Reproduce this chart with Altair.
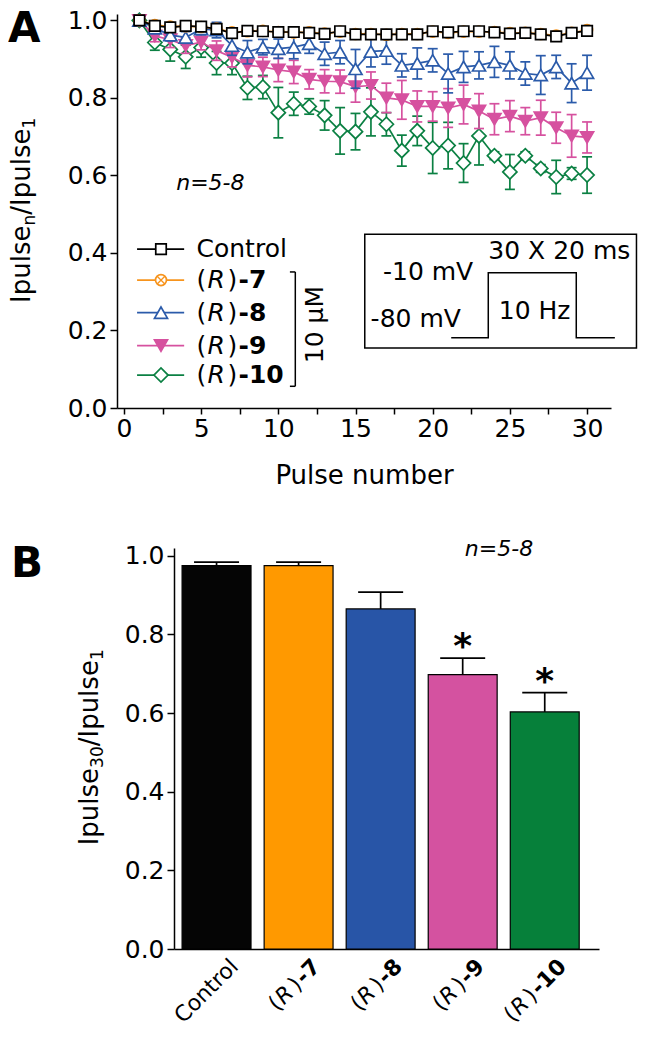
import altair as alt
import pandas as pd

FONT = "DejaVu Sans"

# ---------------- Panel A data ----------------
pulses = list(range(1, 31))

control = [1.000, 0.986, 0.982, 0.986, 0.984, 0.978, 0.967, 0.973, 0.972, 0.970,
           0.970, 0.968, 0.965, 0.972, 0.964, 0.964, 0.964, 0.964, 0.964, 0.972,
           0.969, 0.972, 0.972, 0.969, 0.966, 0.968, 0.964, 0.959, 0.968, 0.973]
control_se = [0.000, 0.006, 0.006, 0.005, 0.006, 0.006, 0.006, 0.006, 0.007, 0.006,
              0.006, 0.007, 0.006, 0.006, 0.007, 0.006, 0.006, 0.006, 0.007, 0.006,
              0.007, 0.006, 0.007, 0.006, 0.006, 0.007, 0.006, 0.007, 0.006, 0.007]

r7 = [1.000, 0.988, 0.984, 0.985, 0.983, 0.979, 0.969, 0.972, 0.973, 0.970,
      0.969, 0.969, 0.966, 0.971, 0.965, 0.965, 0.963, 0.965, 0.965, 0.971,
      0.968, 0.971, 0.971, 0.970, 0.967, 0.968, 0.965, 0.961, 0.968, 0.975]
r7_se = [0.000, 0.007, 0.007, 0.006, 0.007, 0.007, 0.007, 0.007, 0.007, 0.007,
         0.007, 0.007, 0.007, 0.007, 0.007, 0.007, 0.007, 0.007, 0.007, 0.007,
         0.007, 0.007, 0.007, 0.007, 0.007, 0.007, 0.007, 0.007, 0.007, 0.008]

r8 = [1.000, 0.980, 0.962, 0.956, 0.978, 0.975, 0.935, 0.918, 0.931, 0.927,
      0.931, 0.940, 0.914, 0.918, 0.875, 0.920, 0.922, 0.884, 0.889, 0.897,
      0.863, 0.880, 0.884, 0.893, 0.884, 0.863, 0.859, 0.880, 0.838, 0.865]
r8_se = [0.000, 0.010, 0.015, 0.015, 0.015, 0.020, 0.025, 0.030, 0.020, 0.025,
         0.030, 0.025, 0.030, 0.030, 0.050, 0.040, 0.035, 0.030, 0.040, 0.030,
         0.050, 0.040, 0.035, 0.040, 0.035, 0.030, 0.050, 0.030, 0.050, 0.045]

r9 = [1.000, 0.960, 0.950, 0.935, 0.944, 0.922, 0.905, 0.884, 0.880, 0.872,
      0.867, 0.848, 0.843, 0.842, 0.829, 0.832, 0.800, 0.795, 0.778, 0.778,
      0.774, 0.783, 0.766, 0.745, 0.753, 0.740, 0.749, 0.723, 0.702, 0.698]
r9_se = [0.000, 0.015, 0.020, 0.020, 0.020, 0.025, 0.025, 0.030, 0.025, 0.030,
         0.030, 0.025, 0.030, 0.030, 0.040, 0.035, 0.038, 0.050, 0.040, 0.038,
         0.050, 0.050, 0.045, 0.040, 0.040, 0.035, 0.045, 0.040, 0.055, 0.040]

r10 = [1.000, 0.943, 0.925, 0.906, 0.930, 0.890, 0.890, 0.826, 0.828, 0.762,
       0.785, 0.778, 0.755, 0.715, 0.713, 0.764, 0.732, 0.664, 0.715, 0.671,
       0.677, 0.632, 0.702, 0.651, 0.609, 0.651, 0.618, 0.596, 0.605, 0.601]
r10_se = [0.000, 0.020, 0.030, 0.030, 0.025, 0.030, 0.030, 0.030, 0.030, 0.065,
          0.030, 0.020, 0.038, 0.060, 0.047, 0.062, 0.030, 0.040, 0.038, 0.066,
          0.060, 0.050, 0.075, 0.010, 0.045, 0.010, 0.010, 0.043, 0.015, 0.047]

series_names = ["Control", "(R)-7", "(R)-8", "(R)-9", "(R)-10"]
series_values = [control, r7, r8, r9, r10]
series_errors = [control_se, r7_se, r8_se, r9_se, r10_se]
legend_numbers = ["", "-7", "-8", "-9", "-10"]

# ---------------- Panel B data ----------------
bar_categories = ["Control", "(R)-7", "(R)-8", "(R)-9", "(R)-10"]
bar_values = [0.975, 0.975, 0.865, 0.698, 0.603]
bar_errors = [0.009, 0.009, 0.043, 0.042, 0.049]
bar_marks = ["", "", "", "*", "*"]

# ---------------- styles ----------------
line_colors = ["#000000", "#F7941D", "#2B5BAA", "#D6519F", "#0B8043"]
bar_colors = ["#050505", "#FF9900", "#2855A7", "#D452A0", "#06803A"]
marker_shapes = ["square", "circle", "triangle-up", "triangle-down", "diamond"]
marker_filled = [False, False, False, True, False]
marker_sizes = [110, 120, 170, 170, 200]
X_PATH = "M-0.7,-0.7L0.7,0.7M0.7,-0.7L-0.7,0.7"
LW = 1.7
FS = 25

# ---------------- Panel A scales ----------------
xa_scale = alt.Scale(domain=[-0.45, 31.55], nice=False, zero=False)
ya_scale = alt.Scale(domain=[0, 1.0165], nice=False, zero=False)
xa_axis = alt.Axis(title="Pulse number", values=[i * 2.5 for i in range(13)],
                   labelExpr="datum.value % 5 == 0 ? datum.label : ''",
                   labelFontSize=FS, titleFontSize=26, titleFontWeight="normal",
                   tickSize=6, tickWidth=1.5, domainWidth=1.5, labelPadding=2,
                   titlePadding=21, grid=False, labelOverlap=False, labelFlush=False)
ya_axis = alt.Axis(title=None, values=[0, 0.2, 0.4, 0.6, 0.8, 1.0], format=".1f",
                   labelFontSize=FS, tickSize=7, tickWidth=1.5, domainWidth=1.5,
                   labelPadding=3, grid=False)


def XA(field=None, datum=None):
    if datum is not None:
        return alt.X(datum=datum, type="quantitative", scale=xa_scale, axis=xa_axis)
    return alt.X(field, type="quantitative", scale=xa_scale, axis=xa_axis)


def YA(field=None, datum=None):
    if datum is not None:
        return alt.Y(datum=datum, type="quantitative", scale=ya_scale, axis=ya_axis)
    return alt.Y(field, type="quantitative", scale=ya_scale, axis=ya_axis)


one = pd.DataFrame({"k": [0]})

layersA = []
for idx in [4, 3, 2, 1, 0]:
    vals = series_values[idx]
    ses = series_errors[idx]
    col = line_colors[idx]
    df = pd.DataFrame({"pulse": pulses, "value": vals,
                       "lo": [v - s for v, s in zip(vals, ses)],
                       "hi": [v + s for v, s in zip(vals, ses)]})
    base = alt.Chart(df)
    layersA.append(base.mark_rule(color=col, strokeWidth=LW).encode(
        x=XA("pulse"), y=YA("lo"), y2="hi"))
    for f in ["lo", "hi"]:
        layersA.append(base.mark_tick(color=col, orient="horizontal", size=10,
                                      thickness=LW, opacity=1).encode(x=XA("pulse"), y=YA(f)))
    layersA.append(base.mark_line(color=col, strokeWidth=LW).encode(
        x=XA("pulse"), y=YA("value")))
    layersA.append(base.mark_point(shape=marker_shapes[idx], size=marker_sizes[idx],
                                   filled=True, fill=col if marker_filled[idx] else "white",
                                   stroke=col, strokeWidth=LW, opacity=1).encode(
        x=XA("pulse"), y=YA("value")))
    if idx == 1:
        layersA.append(base.mark_point(shape=X_PATH, size=marker_sizes[idx], filled=False,
                                       stroke=col, strokeWidth=1.3, opacity=1).encode(
            x=XA("pulse"), y=YA("value")))

# ---------------- Legend (inside A) ----------------
legend_rows = [0.41, 0.33, 0.246, 0.161, 0.085]
LEG_X0, LEG_X1, LEG_M, LEG_T = 0.85, 3.9, 2.4, 4.7
for idx, name in enumerate(series_names):
    col = line_colors[idx]
    ld = pd.DataFrame({"v": [legend_rows[idx]]})
    b = alt.Chart(ld)
    layersA.append(b.mark_rule(color=col, strokeWidth=LW).encode(
        x=XA(datum=LEG_X0), x2=alt.X2(datum=LEG_X1), y=YA("v")))
    layersA.append(b.mark_point(shape=marker_shapes[idx], size=marker_sizes[idx], filled=True,
                                fill=col if marker_filled[idx] else "white", stroke=col,
                                strokeWidth=LW, opacity=1).encode(x=XA(datum=LEG_M), y=YA("v")))
    if idx == 1:
        layersA.append(b.mark_point(shape=X_PATH, size=marker_sizes[idx], filled=False,
                                    stroke=col, strokeWidth=1.3, opacity=1).encode(
            x=XA(datum=LEG_M), y=YA("v")))

leg_df = pd.DataFrame({"name": series_names, "v": legend_rows, "num": legend_numbers})
lb = alt.Chart(leg_df)
txt_kw = dict(align="left", baseline="middle", fontSize=FS, color="black")
layersA.append(lb.transform_filter("datum.name == 'Control'").mark_text(**txt_kw).encode(
    x=XA(datum=LEG_T), y=YA("v"), text="name:N"))
rl = lb.transform_filter("datum.name != 'Control'")
R_PIECES = [("(", {}, 0), ("R", {"fontStyle": "italic"}, 11), (")", {}, 31), (None, {"fontWeight": "bold"}, 42)]
for t, kw, pos in R_PIECES:
    layersA.append(rl.mark_text(dx=pos, **kw, **txt_kw).encode(
        x=XA(datum=LEG_T), y=YA("v"), text=(alt.value(t) if t else "num:N")))

# bracket + 10 uM
ob = alt.Chart(one)
layersA.append(ob.mark_rule(color="black", strokeWidth=1.5).encode(
    x=XA(datum=11.1), y=YA(datum=0.056), y2=alt.Y2(datum=0.351)))
for yy in [0.056, 0.351]:
    layersA.append(ob.mark_rule(color="black", strokeWidth=1.5).encode(
        x=XA(datum=10.75), x2=alt.X2(datum=11.1), y=YA(datum=yy)))
layersA.append(ob.mark_text(angle=270, align="center", baseline="middle", fontSize=FS).encode(
    x=XA(datum=12.4), y=YA(datum=0.215), text=alt.value("10 \u03bcM")))

# n=5-8
layersA.append(ob.mark_text(fontStyle="italic", fontSize=22, align="center", baseline="middle").encode(
    x=XA(datum=5.6), y=YA(datum=0.58), text=alt.value("n=5-8")))

# inset protocol
layersA.append(ob.mark_rect(fill="white", stroke="black", strokeWidth=1.5).encode(
    x=XA(datum=15.6), x2=alt.X2(datum=33.2), y=YA(datum=0.155), y2=alt.Y2(datum=0.448)))
wave_x = [21.2, 23.6, 23.6, 29.3, 29.3, 31.8]
wave_y = [0.181, 0.181, 0.349, 0.349, 0.181, 0.181]
wdf = pd.DataFrame({"x": wave_x, "y": wave_y, "i": list(range(len(wave_x)))})
layersA.append(alt.Chart(wdf).mark_line(color="black", strokeWidth=1.5).encode(
    x=XA("x"), y=YA("y"), order="i:Q"))
for t, xx, yy in [("30 X 20 ms", 28.2, 0.406), ("-10 mV", 19.7, 0.351),
                  ("-80 mV", 18.9, 0.229), ("10 Hz", 26.6, 0.25)]:
    layersA.append(ob.mark_text(fontSize=FS, align="center", baseline="middle").encode(
        x=XA(datum=xx), y=YA(datum=yy), text=alt.value(t)))

# panel letter
layersA.append(ob.mark_text(fontSize=42, fontWeight="bold", align="left", baseline="alphabetic").encode(
    x=alt.value(-109), y=alt.value(28), text=alt.value("A")))


def ytitle_layers(base, xpix, ymid, sub1, yfun):
    out = []
    f, fs = 26, 17
    w_main = 2.978 * f
    w_sub1 = 0.636 * fs * len(sub1) if sub1 != "n" else 0.634 * fs
    w_slash = 3.315 * f
    w_sub2 = 0.636 * fs
    L = w_main + w_sub1 + w_slash + w_sub2
    pos = -L / 2
    for t, size, dy, w in [("Ipulse", f, 0, w_main), (sub1, fs, 8, w_sub1),
                           ("/Ipulse", f, 0, w_slash), ("1", fs, 8, w_sub2)]:
        out.append(base.mark_text(angle=270, align="left", baseline="middle", fontSize=size,
                                  dx=pos, dy=dy).encode(
            x=alt.value(xpix), y=yfun(ymid), text=alt.value(t)))
        pos += w
    return out


layersA += ytitle_layers(ob, -95, 0.51, "n", lambda v: YA(datum=v))

chartA = alt.layer(*layersA).properties(width=494, height=394)

# ---------------- Panel B ----------------
B_LEFT = 57   # y axis of panel B sits to the right of panel A's
B_W = 482
xb_scale = alt.Scale(domain=bar_categories, range=[B_LEFT, B_W],
                     paddingInner=0.16, paddingOuter=0.17, align=0.29)
xb_axis = alt.Axis(title=None, labels=False, ticks=False, domainWidth=1.5, grid=False)
yb_scale = alt.Scale(domain=[0, 1.02], nice=False, zero=False)
yb_axis = alt.Axis(title=None, values=[0, 0.2, 0.4, 0.6, 0.8, 1.0], format=".1f",
                   labelFontSize=FS, tickSize=7, tickWidth=1.5, domainWidth=1.5,
                   labelPadding=3, grid=False, offset=-B_LEFT)


def XB(field):
    return alt.X(field, type="nominal", scale=xb_scale, axis=xb_axis, sort=bar_categories)


def YB(field=None, datum=None):
    if datum is not None:
        return alt.Y(datum=datum, type="quantitative", scale=yb_scale, axis=yb_axis)
    return alt.Y(field, type="quantitative", scale=yb_scale, axis=yb_axis)


bdf = pd.DataFrame({"cat": bar_categories, "val": bar_values,
                    "hi": [v + e for v, e in zip(bar_values, bar_errors)],
                    "star": bar_marks, "num": legend_numbers})
bb = alt.Chart(bdf)
layersB = [
    bb.mark_rule(color="black", strokeWidth=LW).encode(x=XB("cat"), y=YB("val"), y2="hi"),
    bb.mark_tick(color="black", orient="horizontal", size=45, thickness=LW, opacity=1).encode(
        x=XB("cat"), y=YB("hi")),
    bb.mark_bar(stroke="black", strokeWidth=1.2).encode(
        x=XB("cat"), y=YB("val"),
        color=alt.Color("cat:N", scale=alt.Scale(domain=bar_categories, range=bar_colors), legend=None)),
    bb.transform_filter("datum.star != ''").mark_text(fontSize=36, fontWeight="bold",
                                                      align="center", baseline="alphabetic").encode(
        x=XB("cat"), y=YB("hi"), text="star:N"),
]

# rotated category labels with italic R and bold numbers
LFS = 22
DX0, DY0 = 2.8, 22.6
lab_kw = dict(angle=315, baseline="middle", fontSize=LFS, color="black")
layersB.append(bb.transform_filter("datum.cat == 'Control'").mark_text(
    align="right", dx=DX0, dy=DY0, **lab_kw).encode(x=XB("cat"), y=YB(datum=0), text="cat:N"))
LAB_PIECES = [("(", {}, 0), ("R", {"fontStyle": "italic"}, 9.5), (")", {}, 28), (None, {"fontWeight": "bold"}, 38)]
for cond, numw in [("datum.cat != 'Control' && datum.num != '-10'", 0.415 * LFS + 0.696 * LFS),
                   ("datum.num == '-10'", 0.415 * LFS + 1.392 * LFS)]:
    sub = bb.transform_filter(cond)
    L = 38 + numw
    for t, kw, pos in LAB_PIECES:
        layersB.append(sub.mark_text(align="left", dx=DX0 + pos - L, dy=DY0, **kw, **lab_kw).encode(
            x=XB("cat"), y=YB(datum=0), text=(alt.value(t) if t else "num:N")))

ob2 = alt.Chart(one)
layersB.append(ob2.mark_text(fontStyle="italic", fontSize=22, align="center", baseline="middle").encode(
    x=alt.value(382), y=alt.value(1), text=alt.value("n=5-8")))
layersB.append(ob2.mark_text(fontSize=42, fontWeight="bold", align="left", baseline="alphabetic").encode(
    x=alt.value(-106), y=alt.value(29), text=alt.value("B")))
layersB += ytitle_layers(ob2, -27, 0.513, "30", lambda v: YB(datum=v))

chartB = alt.layer(*layersB).properties(width=B_W, height=401)

chart = alt.vconcat(chartA, chartB, spacing=50).properties(
    padding=0
).configure(font=FONT).configure_view(stroke=None).configure_axis(
    labelFont=FONT, titleFont=FONT, labelColor="black", titleColor="black",
    domainColor="black", tickColor="black")

chart.save("out.html", embed_options={"renderer": "svg", "actions": False})
